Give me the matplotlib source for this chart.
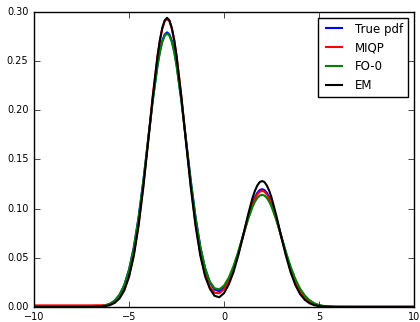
import numpy as np
import matplotlib
matplotlib.use('Agg')
import matplotlib.pyplot as plt

# sample points: sparse in the flat tails, denser near the two peaks
x = [-10, -9, -8, -7.5,
     -7, -6.75, -6.5, -6.25, -6, -5.75, -5.5, -5.25, -5, -4.75, -4.5, -4.25, -4, -3.75,
     -3.5, -3.375, -3.25, -3.125, -3, -2.875, -2.75, -2.625, -2.5,
     -2.25, -2, -1.75, -1.5, -1.25, -1, -0.75, -0.5, -0.25, 0, 0.25, 0.5, 0.75, 1, 1.25,
     1.5, 1.625, 1.75, 1.875, 2, 2.125, 2.25, 2.375, 2.5,
     2.75, 3, 3.25, 3.5, 3.75, 4, 4.25, 4.5, 4.75, 5, 5.25, 5.5, 5.75, 6,
     7, 8, 9, 10]

true_pdf = [0, 0, 0, 0,
            0.0001, 0.0002, 0.0006, 0.0014, 0.0031, 0.0064, 0.0123, 0.0222, 0.0378, 0.0604, 0.0907, 0.1278, 0.1694, 0.2108,
            0.2465, 0.2602, 0.2707, 0.2770, 0.2792, 0.2770, 0.2707, 0.2602, 0.2465,
            0.2108, 0.1694, 0.1279, 0.0910, 0.0610, 0.0391, 0.0249, 0.0176, 0.0159, 0.0193, 0.0273, 0.0395, 0.0550, 0.0727, 0.0903,
            0.1056, 0.1116, 0.1160, 0.1188, 0.1197, 0.1188, 0.1160, 0.1116, 0.1056,
            0.0903, 0.0726, 0.0548, 0.0389, 0.0259, 0.0162, 0.0095, 0.0053, 0.0027, 0.0013, 0.0006, 0.0003, 0.0001, 0.0,
            0, 0, 0, 0]

miqp = [0.0015, 0.0015, 0.0015, 0.0015,
        0.0015, 0.0016, 0.0016, 0.0018, 0.0028, 0.0049, 0.0095, 0.0177, 0.0319, 0.0537, 0.0842, 0.1233, 0.1684, 0.2146,
        0.2551, 0.2710, 0.2830, 0.2905, 0.2930, 0.2905, 0.2830, 0.2710, 0.2551,
        0.2146, 0.1684, 0.1234, 0.0845, 0.0543, 0.0332, 0.0204, 0.0144, 0.0138, 0.0180, 0.0263, 0.0386, 0.0541, 0.0716, 0.0891,
        0.1041, 0.1100, 0.1144, 0.1171, 0.1180, 0.1171, 0.1144, 0.1100, 0.1041,
        0.0891, 0.0716, 0.0540, 0.0383, 0.0255, 0.0160, 0.0094, 0.0052, 0.0027, 0.0013, 0.0006, 0.0003, 0.0001, 0.0,
        0, 0, 0, 0]

fo0 = [0, 0, 0, 0,
       0.0001, 0.0002, 0.0006, 0.0014, 0.0031, 0.0063, 0.0122, 0.0221, 0.0376, 0.0601, 0.0903, 0.1273, 0.1686, 0.2098,
       0.2453, 0.2591, 0.2694, 0.2758, 0.2780, 0.2758, 0.2694, 0.2591, 0.2453,
       0.2098, 0.1687, 0.1275, 0.0907, 0.0610, 0.0395, 0.0258, 0.0189, 0.0178, 0.0217, 0.0298, 0.0417, 0.0563, 0.0725, 0.0883,
       0.1018, 0.1070, 0.1108, 0.1132, 0.1140, 0.1132, 0.1108, 0.1070, 0.1018,
       0.0883, 0.0724, 0.0561, 0.0411, 0.0284, 0.0186, 0.0115, 0.0067, 0.0037, 0.0019, 0.0009, 0.0004, 0.0002, 0.0001,
       0, 0, 0, 0]

em = [0, 0, 0, 0,
      0.0, 0.0001, 0.0003, 0.0007, 0.0018, 0.0041, 0.0086, 0.0168, 0.0306, 0.0519, 0.0823, 0.1214, 0.1669, 0.2139,
      0.2552, 0.2715, 0.2838, 0.2914, 0.2940, 0.2914, 0.2838, 0.2715, 0.2552,
      0.2139, 0.1669, 0.1214, 0.0824, 0.0522, 0.0313, 0.0185, 0.0112, 0.0098, 0.0140, 0.0229, 0.0356, 0.0525, 0.0722, 0.0928,
      0.1110, 0.1181, 0.1235, 0.1269, 0.1280, 0.1269, 0.1235, 0.1181, 0.1110,
      0.0928, 0.0722, 0.0524, 0.0353, 0.0222, 0.0130, 0.0071, 0.0036, 0.0017, 0.0007, 0.0003, 0.0001, 0.0, 0.0,
      0, 0, 0, 0]

labels = ['True pdf', 'MIQP', 'FO-0', 'EM']
colors = ['b', 'r', 'g', 'k']

plt.style.use('classic')
fig = plt.figure(figsize=(4.2, 3.22), dpi=100)
ax = fig.add_axes([0.081, 0.047, 0.905, 0.916])

for ys, lab, c in zip([true_pdf, miqp, fo0, em], labels, colors):
    ax.plot(x, ys, color=c, linewidth=1.5, label=lab)

ax.set_xlim(-10, 10)
ax.set_ylim(0, 0.30)
ax.set_yticks(np.arange(0, 0.301, 0.05))
ax.yaxis.set_major_formatter(plt.FormatStrFormatter('%.2f'))
ax.tick_params(labelsize=7)
ax.legend(loc='upper right', fontsize=8.5)

fig.savefig('out.png', dpi=100)
